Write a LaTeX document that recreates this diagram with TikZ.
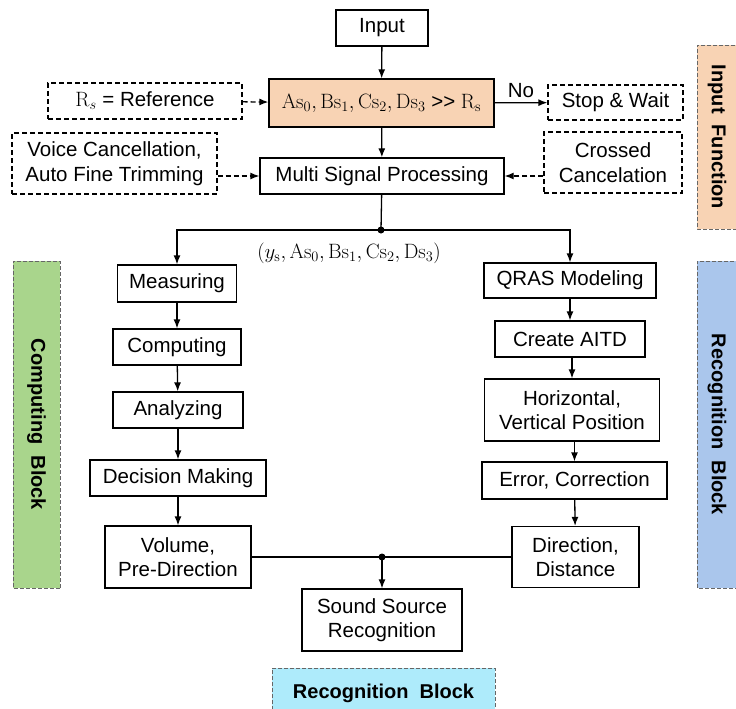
\documentclass[tikz,border=0pt]{standalone}
\usepackage[no-math]{fontspec}
\setmainfont{Liberation Sans}
\usetikzlibrary{arrows.meta}

\definecolor{peach}{HTML}{F8D3B4}
\definecolor{leaf}{HTML}{A9D58C}
\definecolor{sky}{HTML}{AAC6EC}
\definecolor{aqua}{HTML}{AEEBFB}

\begin{document}
\begin{tikzpicture}[x=1pt,y=-1pt,
		font=\fontsize{20.5}{24.5}\selectfont,
		box/.style={draw, line width=1.3pt, align=center, inner sep=2pt},
		dbox/.style={box, dash pattern=on 5pt off 3pt},
		blockbox/.style={draw=black!60, line width=0.8pt, dash pattern=on 4pt off 2pt,
			rotate=-90, font=\fontsize{20}{24}\selectfont\bfseries},
		arr/.style={-{Latex[length=9pt,width=7pt]}, line width=1.3pt},
		darr/.style={arr, dash pattern=on 5pt off 3pt}]

		\useasboundingbox (0,0) rectangle (736,709);

		% side blocks
		\node[blockbox, fill=peach, minimum width=184, minimum height=40] (infunc) at (717,137) {Input\ \ Function};
		\node[blockbox, fill=leaf, minimum width=327, minimum height=47] (compblk) at (36.5,424.5) {Computing\ \ Block};
		\node[blockbox, fill=sky, minimum width=327, minimum height=40] (recblk) at (717,424.5) {Recognition\ \ Block};
		\node[blockbox, rotate=90, fill=aqua, minimum width=223, minimum height=50] (recblkb) at (383.5,693) {Recognition\ \ Block};

		% input part
		\node[box, minimum width=92, minimum height=36] (inp) at (382,28) {Input};
		\node[box, fill=peach, minimum width=225, minimum height=48] (cond) at (381.5,103)
			{$\mathrm{As}_0, \mathrm{Bs}_1, \mathrm{Cs}_2, \mathrm{Ds}_3$ >{}> $\mathrm{R}_\mathrm{s}$};
		\node[dbox, minimum width=194, minimum height=36] (ref) at (145,101) {$\mathrm{R}_s$ = Reference};
		\node[dbox, minimum width=135, minimum height=35] (stop) at (615.5,102.5) {Stop \& Wait};
		\node[box, minimum width=244, minimum height=36] (msp) at (382,176) {Multi Signal Processing};
		\node[dbox, minimum width=205, minimum height=61] (voice) at (114.5,163.5) {Voice Cancellation,\\Auto Fine Trimming};
		\node[dbox, minimum width=138, minimum height=61] (cross) at (613,162.5) {Crossed\\Cancelation};

		\draw[arr] (inp) -- (cond);
		\draw[darr] (ref) -- (cond);
		\draw[arr] (cond) -- node[above=1pt] {No} (stop);
		\draw[arr] (cond) -- (msp);
		\draw[darr] (voice.east |- msp) -- (msp);
		\draw[darr] (cross.west |- msp) -- (msp);

		% split
		\coordinate (split) at (381,230);
		\fill (split) circle (3.5);
		\node (sig) at (349,253) {$(y_\mathrm{s}, \mathrm{As}_0, \mathrm{Bs}_1, \mathrm{Cs}_2, \mathrm{Ds}_3)$};

		% left column
		\node[box, minimum width=119, minimum height=37] (meas) at (177,283.5) {Measuring};
		\node[box, minimum width=128, minimum height=36] (comp) at (177,347) {Computing};
		\node[box, minimum width=130, minimum height=36] (anal) at (178,410) {Analyzing};
		\node[box, minimum width=176, minimum height=36] (dec) at (178,478) {Decision Making};
		\node[box, minimum width=146, minimum height=62] (vol) at (178,557) {Volume,\\Pre-Direction};

		% right column
		\node[box, minimum width=172, minimum height=35] (qras) at (570,280.5) {QRAS Modeling};
		\node[box, minimum width=150, minimum height=36] (aitd) at (570,339) {Create AITD};
		\node[box, minimum width=175, minimum height=62] (hv) at (572,410) {Horizontal,\\Vertical Position};
		\node[box, minimum width=185, minimum height=37] (err) at (574.5,480.5) {Error, Correction};
		\node[box, minimum width=127, minimum height=61] (dir) at (575.5,557) {Direction,\\Distance};

		\node[box, minimum width=160, minimum height=62] (ssr) at (382,620) {Sound Source\\Recognition};

		\draw[line width=1.3pt] (msp) -- (split);
		\draw[arr] (split) -| (meas);
		\draw[arr] (split) -| (qras);

		\draw[arr] (meas) -- (comp);
		\draw[arr] (comp) -- (anal);
		\draw[arr] (anal) -- (dec);
		\draw[arr] (dec) -- (vol);

		\draw[arr] (qras) -- (aitd);
		\draw[arr] (aitd.south -| hv) -- (hv);
		\draw[arr] (hv.south -| err) -- (err);
		\draw[arr] (err) -- (dir);

		% merge
		\coordinate (merge) at (382,557);
		\draw[line width=1.3pt] (vol) -- (dir);
		\fill (merge) circle (3.5);
		\draw[arr] (merge) -- (ssr);

	\end{tikzpicture}
\end{document}
